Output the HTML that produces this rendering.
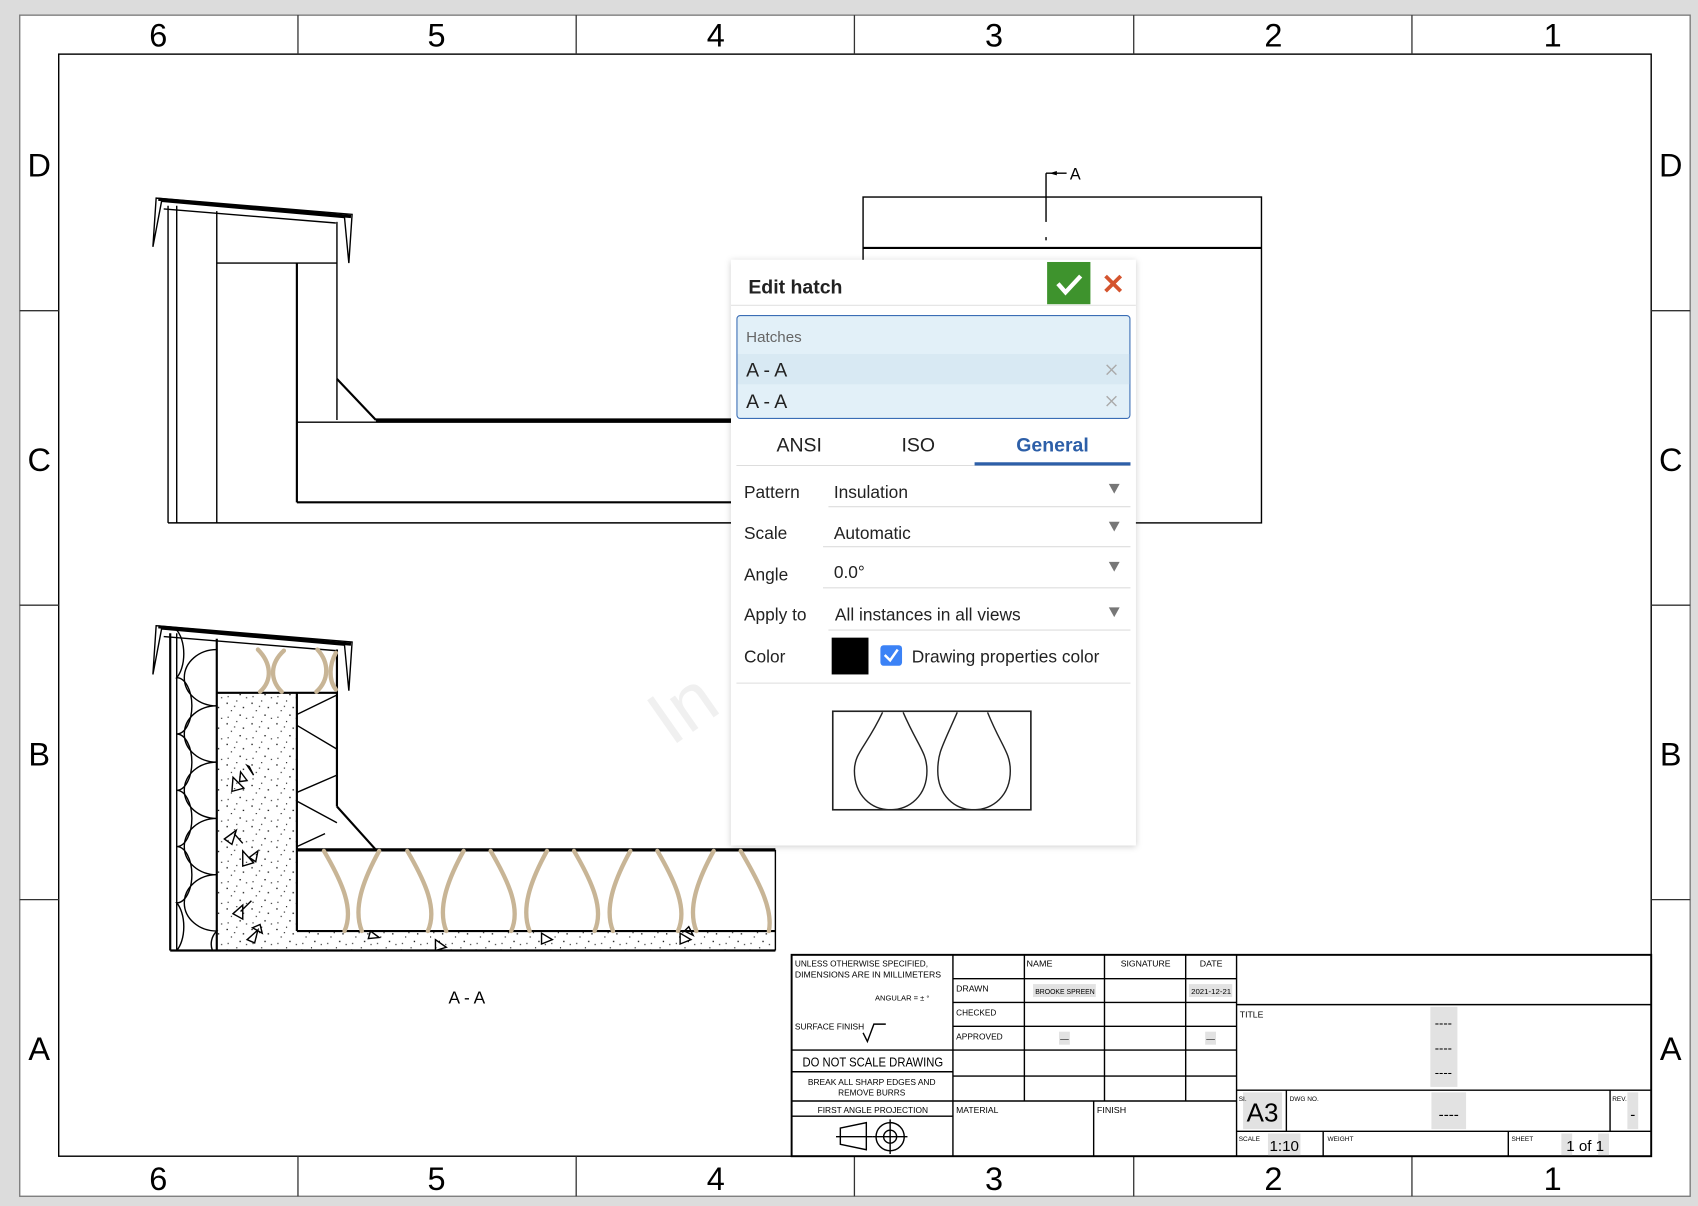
<!DOCTYPE html>
<html><head><meta charset="utf-8"><style>
html,body{margin:0;padding:0;background:#dcdcdc;}
svg{display:block;}
text{font-family:"Liberation Sans",sans-serif;}
.n{font-family:"Liberation Sans Narrow","Liberation Sans",sans-serif;}
</style></head><body>
<svg width="1698" height="1206" viewBox="0 0 1568 1114" xmlns="http://www.w3.org/2000/svg">
<defs>
<pattern id="dots" width="23" height="19" patternUnits="userSpaceOnUse">
<rect x="2" y="3" width="1.2" height="1.2" fill="#000"/><rect x="11" y="1" width="1" height="1" fill="#000"/>
<rect x="17" y="7" width="1.2" height="1.2" fill="#000"/><rect x="6" y="10" width="1" height="1" fill="#000"/>
<rect x="14" y="14" width="1.2" height="1.2" fill="#000"/><rect x="3" y="16" width="1" height="1" fill="#000"/>
<rect x="20" y="17" width="1" height="1" fill="#000"/><rect x="9" y="6" width="1" height="1" fill="#000"/>
</pattern>
<filter id="sh" x="-10%" y="-10%" width="120%" height="120%"><feDropShadow dx="0" dy="1" stdDeviation="3" flood-opacity="0.2"/></filter>
</defs>
<rect x="0" y="0" width="1568" height="1114" fill="#dcdcdc"/>
<rect x="18" y="14" width="1543" height="1091" fill="#fff" stroke="#777" stroke-width="1.2"/>
<rect x="54" y="50" width="1471" height="1018" fill="#fff" stroke="#000" stroke-width="1.3"/>
<g stroke="#333" stroke-width="1.2">
<line x1="275" y1="14" x2="275" y2="50"/><line x1="532" y1="14" x2="532" y2="50"/><line x1="789" y1="14" x2="789" y2="50"/><line x1="1047" y1="14" x2="1047" y2="50"/><line x1="1304" y1="14" x2="1304" y2="50"/>
<line x1="275" y1="1068" x2="275" y2="1105"/><line x1="532" y1="1068" x2="532" y2="1105"/><line x1="789" y1="1068" x2="789" y2="1105"/><line x1="1047" y1="1068" x2="1047" y2="1105"/><line x1="1304" y1="1068" x2="1304" y2="1105"/>
<line x1="18" y1="287" x2="54" y2="287"/><line x1="18" y1="559" x2="54" y2="559"/><line x1="18" y1="831" x2="54" y2="831"/>
<line x1="1525" y1="287" x2="1561" y2="287"/><line x1="1525" y1="559" x2="1561" y2="559"/><line x1="1525" y1="831" x2="1561" y2="831"/>
</g>
<g font-size="30" text-anchor="middle" fill="#000">
<text x="146" y="43">6</text><text x="403" y="43">5</text><text x="661" y="43">4</text><text x="918" y="43">3</text><text x="1176" y="43">2</text><text x="1434" y="43">1</text>
<text x="146" y="1099">6</text><text x="403" y="1099">5</text><text x="661" y="1099">4</text><text x="918" y="1099">3</text><text x="1176" y="1099">2</text><text x="1434" y="1099">1</text>
<text x="36" y="163">D</text><text x="36" y="435">C</text><text x="36" y="707">B</text><text x="36" y="979">A</text>
<text x="1543" y="163">D</text><text x="1543" y="435">C</text><text x="1543" y="707">B</text><text x="1543" y="979">A</text>
</g>

<!-- upper view -->
<g stroke="#000" fill="none" stroke-width="1.3">
<polygon points="144,183 325,198 322,243 318,201 149,186 141,228" fill="#fff"/>
<line x1="146" y1="184" x2="324" y2="200" stroke-width="3"/>
<line x1="151" y1="193" x2="310" y2="206"/>
<line x1="155" y1="190" x2="155" y2="483"/><line x1="163" y1="190" x2="163" y2="483"/>
<line x1="200" y1="195" x2="200" y2="483"/>
<line x1="200" y1="243" x2="311" y2="243"/>
<line x1="311" y1="205" x2="311" y2="388"/>
<line x1="274" y1="243" x2="274" y2="464" stroke-width="2"/>
<line x1="311" y1="350" x2="347" y2="388" stroke-width="2"/>
<line x1="347" y1="388" x2="676" y2="388" stroke-width="3"/>
<line x1="274" y1="390" x2="676" y2="390"/>
<line x1="274" y1="464" x2="676" y2="464" stroke-width="2"/>
<line x1="155" y1="483" x2="676" y2="483"/>
<rect x="797" y="182" width="368" height="301"/>
<line x1="797" y1="229" x2="1165" y2="229" stroke-width="2"/>
<line x1="966" y1="160" x2="966" y2="205"/>
<line x1="966" y1="160" x2="985" y2="160"/>
<line x1="966" y1="219" x2="966" y2="222"/>
</g>
<polygon points="969,160 976,158 976,162" fill="#000"/>
<text x="993" y="166" font-size="15" text-anchor="middle">A</text>

<!-- lower view -->
<g stroke="#000" fill="none" stroke-width="1.3">
<rect x="200" y="640" width="74" height="238" fill="url(#dots)" stroke="none"/>
<rect x="274" y="860" width="442" height="18" fill="url(#dots)" stroke="none"/>
<polygon points="144,578 325,593 322,638 318,596 149,581 141,623" fill="#fff"/>
<line x1="146" y1="579" x2="324" y2="595" stroke-width="3"/>
<line x1="151" y1="588" x2="310" y2="601"/>
<line x1="157" y1="585" x2="157" y2="878" stroke-width="2"/><line x1="163" y1="585" x2="163" y2="878"/>
<line x1="200" y1="590" x2="200" y2="878" stroke-width="2"/>
<line x1="200" y1="640" x2="311" y2="640" stroke-width="2"/>
<line x1="311" y1="600" x2="311" y2="745" stroke-width="2"/>
<line x1="274" y1="640" x2="274" y2="860" stroke-width="2"/>
<line x1="311" y1="745" x2="347" y2="785" stroke-width="2"/>
<line x1="274" y1="785" x2="716" y2="785" stroke-width="3"/>
<line x1="274" y1="860" x2="716" y2="860" stroke-width="2"/>
<line x1="157" y1="878" x2="716" y2="878" stroke-width="2"/>
<line x1="716" y1="785" x2="716" y2="878"/>
<path d="M200,600 A30,26 0 0 0 200,652 A30,26 0 0 0 200,704 A30,26 0 0 0 200,756 A30,26 0 0 0 200,808 A30,26 0 0 0 200,860 A20,18 0 0 0 196,878"/>
<path d="M163,582 A14,26 0 0 1 163,626 A14,26 0 0 1 163,678 A14,26 0 0 1 163,730 A14,26 0 0 1 163,782 A14,26 0 0 1 163,834 A14,26 0 0 1 163,878"/>
<path d="M274,660 L311,642 M274,670 L311,692 M274,732 L311,716 M274,740 L311,760 M274,782 L300,770"/>
<path d="M215,718 L225,728 L214,731Z M222,713 L228,721 L221,722Z M228,707 L234,716 L230,708Z M207,775 L218,767 L214,780Z M216,770 L224,779Z M224,786 L234,797 L224,800Z M230,792 L238,786 L236,796Z M215,844 L224,836 L224,849Z M222,842 L232,832 Z M228,868 L238,859 L235,871Z M233,857 L242,862 L240,854Z M342,860 L350,866 L340,867Z M402,868 L412,875 L402,878Z M500,862 L510,868 L500,872Z M628,862 L638,868 L628,872Z M632,860 L640,864 L636,856Z"/>
</g>
<g stroke="#c8b596" stroke-width="4" fill="none" stroke-linecap="round">
<path d="M299,786 C316,815 327,840 318,860"/><path d="M350,786 C334,815 326,840 334,860"/>
<path d="M376,786 C393,815 404,840 395,860"/><path d="M428,786 C412,815 404,840 412,860"/>
<path d="M453,786 C470,815 481,840 472,860"/><path d="M505,786 C489,815 481,840 489,860"/>
<path d="M530,786 C547,815 558,840 549,860"/><path d="M582,786 C566,815 558,840 566,860"/>
<path d="M607,786 C624,815 635,840 626,860"/><path d="M659,786 C643,815 635,840 643,860"/>
<path d="M684,786 C701,815 714,840 710,860"/>
<path d="M238,600 C250,612 252,628 240,639"/><path d="M262,601 C249,613 249,628 260,639"/>
<path d="M293,600 C304,612 304,628 292,639"/><path d="M310,603 C304,614 303,628 310,637"/>
</g>
<text x="620" y="690" font-size="70" fill="#f0f0f0" transform="rotate(-35 620 690)" font-family="Liberation Serif, serif">In</text>
<text x="431" y="927" font-size="16" text-anchor="middle" class="n">A - A</text>

<!-- title block -->
<g stroke="#000" fill="none" stroke-width="1.3">
<rect x="731" y="882" width="794" height="186" stroke-width="1.8"/>
<line x1="880" y1="882" x2="880" y2="1068"/>
<line x1="1142" y1="882" x2="1142" y2="1068"/>
<line x1="731" y1="970" x2="880" y2="970"/><line x1="731" y1="990" x2="880" y2="990"/><line x1="731" y1="1017" x2="880" y2="1017"/><line x1="731" y1="1031" x2="880" y2="1031"/>
<line x1="946" y1="882" x2="946" y2="1017"/><line x1="1020" y1="882" x2="1020" y2="1017"/><line x1="1095" y1="882" x2="1095" y2="1017"/>
<line x1="880" y1="904" x2="1142" y2="904"/><line x1="880" y1="926" x2="1142" y2="926"/><line x1="880" y1="948" x2="1142" y2="948"/><line x1="880" y1="970" x2="1142" y2="970"/><line x1="880" y1="994" x2="1142" y2="994"/><line x1="880" y1="1017" x2="1142" y2="1017"/>
<line x1="1010" y1="1017" x2="1010" y2="1068"/>
<line x1="1142" y1="928" x2="1525" y2="928"/><line x1="1142" y1="1007" x2="1525" y2="1007"/><line x1="1142" y1="1045" x2="1525" y2="1045"/>
<line x1="1188" y1="1007" x2="1188" y2="1045"/><line x1="1487" y1="1007" x2="1487" y2="1045"/>
<line x1="1222" y1="1045" x2="1222" y2="1068"/><line x1="1393" y1="1045" x2="1393" y2="1068"/>
<path d="M776,1042 L800,1037 L800,1062 L776,1057Z"/><line x1="772" y1="1050" x2="806" y2="1050"/>
<circle cx="822" cy="1050" r="13"/><circle cx="822" cy="1050" r="6"/><line x1="806" y1="1050" x2="838" y2="1050"/><line x1="822" y1="1034" x2="822" y2="1066"/>
<path d="M797,954 L801,962 L807,946 L818,946"/>
</g>
<g fill="#e2e2e2">
<rect x="954" y="909" width="58" height="12"/><rect x="1098" y="909" width="40" height="12"/>
<rect x="978" y="953" width="10" height="12"/><rect x="1113" y="953" width="10" height="12"/>
<rect x="1321" y="930" width="25" height="74"/><rect x="1148" y="1009" width="36" height="34"/><rect x="1322" y="1009" width="32" height="34"/>
<rect x="1503" y="1009" width="10" height="34"/><rect x="1171" y="1047" width="30" height="20"/><rect x="1442" y="1047" width="10" height="20"/><rect x="1476" y="1047" width="10" height="20"/>
</g>
<g class="n" font-size="8" fill="#000">
<text x="734" y="893" textLength="123" lengthAdjust="spacingAndGlyphs">UNLESS OTHERWISE SPECIFIED,</text><text x="734" y="903" textLength="135" lengthAdjust="spacingAndGlyphs">DIMENSIONS ARE IN MILLIMETERS</text>
<text x="808" y="924" font-size="7">ANGULAR = ± °</text>
<text x="734" y="951" textLength="64" lengthAdjust="spacingAndGlyphs">SURFACE FINISH</text>
<text x="741" y="985" font-size="12" textLength="130" lengthAdjust="spacingAndGlyphs">DO NOT SCALE DRAWING</text>
<text x="746" y="1002" textLength="118" lengthAdjust="spacingAndGlyphs">BREAK ALL SHARP EDGES AND</text><text x="805" y="1012" text-anchor="middle" textLength="62" lengthAdjust="spacingAndGlyphs">REMOVE BURRS</text>
<text x="755" y="1028" textLength="102" lengthAdjust="spacingAndGlyphs">FIRST ANGLE PROJECTION</text>
<text x="948" y="893" textLength="24" lengthAdjust="spacingAndGlyphs">NAME</text><text x="1035" y="893" textLength="46" lengthAdjust="spacingAndGlyphs">SIGNATURE</text><text x="1108" y="893" textLength="21" lengthAdjust="spacingAndGlyphs">DATE</text>
<text x="883" y="916" textLength="30" lengthAdjust="spacingAndGlyphs">DRAWN</text><text x="956" y="918" font-size="6.5" textLength="55" lengthAdjust="spacingAndGlyphs">BROOKE SPREEN</text><text x="1100" y="918" font-size="6.5" textLength="37" lengthAdjust="spacingAndGlyphs">2021-12-21</text>
<text x="883" y="938" textLength="37" lengthAdjust="spacingAndGlyphs">CHECKED</text><text x="883" y="960" textLength="43" lengthAdjust="spacingAndGlyphs">APPROVED</text>
<text x="983" y="962" text-anchor="middle">—</text><text x="1118" y="962" text-anchor="middle">—</text>
<text x="883" y="1028" textLength="39" lengthAdjust="spacingAndGlyphs">MATERIAL</text><text x="1013" y="1028" textLength="27" lengthAdjust="spacingAndGlyphs">FINISH</text>
<text x="1145" y="940">TITLE</text>
<text x="1333" y="949" font-size="12" text-anchor="middle">----</text><text x="1333" y="972" font-size="12" text-anchor="middle">----</text><text x="1333" y="995" font-size="12" text-anchor="middle">----</text>
<text x="1144" y="1017" font-size="6">SI.</text><text x="1191" y="1017" font-size="6">DWG NO.</text><text x="1489" y="1017" font-size="6">REV.</text>
<text x="1166" y="1036" font-size="24" text-anchor="middle">A3</text>
<text x="1338" y="1034" font-size="14" text-anchor="middle">----</text><text x="1508" y="1034" font-size="14" text-anchor="middle">-</text>
<text x="1144" y="1054" font-size="6">SCALE</text><text x="1186" y="1063" font-size="14" text-anchor="middle">1:10</text>
<text x="1226" y="1054" font-size="6">WEIGHT</text><text x="1396" y="1054" font-size="6">SHEET</text>
<text x="1464" y="1063" font-size="14" text-anchor="middle">1 of 1</text>
</g>

<!-- dialog -->
<g filter="url(#sh)"><rect x="675" y="240" width="374" height="541" fill="#fff"/></g>
<text x="691" y="271" font-size="18" font-weight="bold" fill="#222">Edit hatch</text>
<rect x="967" y="242" width="40" height="39" fill="#3e932d"/>
<path d="M977,262 L984,270 L998,255" stroke="#fff" stroke-width="4" fill="none"/>
<path d="M1021,255 L1035,269 M1035,255 L1021,269" stroke="#d4542e" stroke-width="3.5"/>
<line x1="675" y1="282" x2="1049" y2="282" stroke="#e3e3e3"/>
<rect x="680.5" y="291.5" width="363" height="95" rx="3" fill="#e2f0f8" stroke="#3a6db5"/>
<rect x="681" y="327" width="362" height="28" fill="#d8e9f3"/>
<text x="689" y="316" font-size="14" fill="#666">Hatches</text>
<text x="689" y="348" font-size="18" fill="#222">A - A</text><text x="689" y="377" font-size="18" fill="#222">A - A</text>
<path d="M1022,337 L1031,346 M1031,337 L1022,346 M1022,366 L1031,375 M1031,366 L1022,375" stroke="#aaa" stroke-width="1.3"/>
<text x="738" y="417" font-size="18" text-anchor="middle" fill="#222">ANSI</text>
<text x="848" y="417" font-size="18" text-anchor="middle" fill="#222">ISO</text>
<text x="972" y="417" font-size="18" font-weight="bold" text-anchor="middle" fill="#2d5fa8">General</text>
<line x1="680" y1="430" x2="1044" y2="430" stroke="#ddd"/>
<rect x="900" y="427" width="144" height="3" fill="#2d5fa8"/>
<g font-size="16" fill="#222">
<text x="687" y="460">Pattern</text><text x="770" y="460">Insulation</text>
<text x="687" y="498">Scale</text><text x="770" y="498">Automatic</text>
<text x="687" y="536">Angle</text><text x="770" y="534">0.0°</text>
<text x="687" y="573">Apply to</text><text x="771" y="573">All instances in all views</text>
<text x="687" y="612">Color</text><text x="842" y="612">Drawing properties color</text>
</g>
<g stroke="#ddd"><line x1="765" y1="468" x2="1044" y2="468"/><line x1="760" y1="505" x2="1044" y2="505"/><line x1="760" y1="543" x2="1044" y2="543"/><line x1="765" y1="582" x2="1044" y2="582"/><line x1="680" y1="631" x2="1044" y2="631"/></g>
<g fill="#777"><path d="M1024,447 L1034,447 L1029,456Z"/><path d="M1024,482 L1034,482 L1029,491Z"/><path d="M1024,519 L1034,519 L1029,528Z"/><path d="M1024,561 L1034,561 L1029,570Z"/></g>
<rect x="768" y="589" width="34" height="34" fill="#000"/>
<rect x="813" y="596" width="20" height="19" rx="3" fill="#3b82f6"/>
<path d="M817,605 L822,610 L829,600" stroke="#fff" stroke-width="2.3" fill="none"/>
<rect x="769" y="657" width="183" height="91" fill="#fff" stroke="#222" stroke-width="1.5"/>
<path d="M815,658 C800,690 789,695 789,712 C789,735 805,748 822,748 C840,748 856,735 856,712 C856,695 848,690 834,658" fill="none" stroke="#222" stroke-width="1.3"/>
<path d="M884,658 C870,690 866,695 866,712 C866,735 882,748 899,748 C917,748 933,735 933,712 C933,695 925,690 912,658" fill="none" stroke="#222" stroke-width="1.3"/>
</svg>
</body></html>
